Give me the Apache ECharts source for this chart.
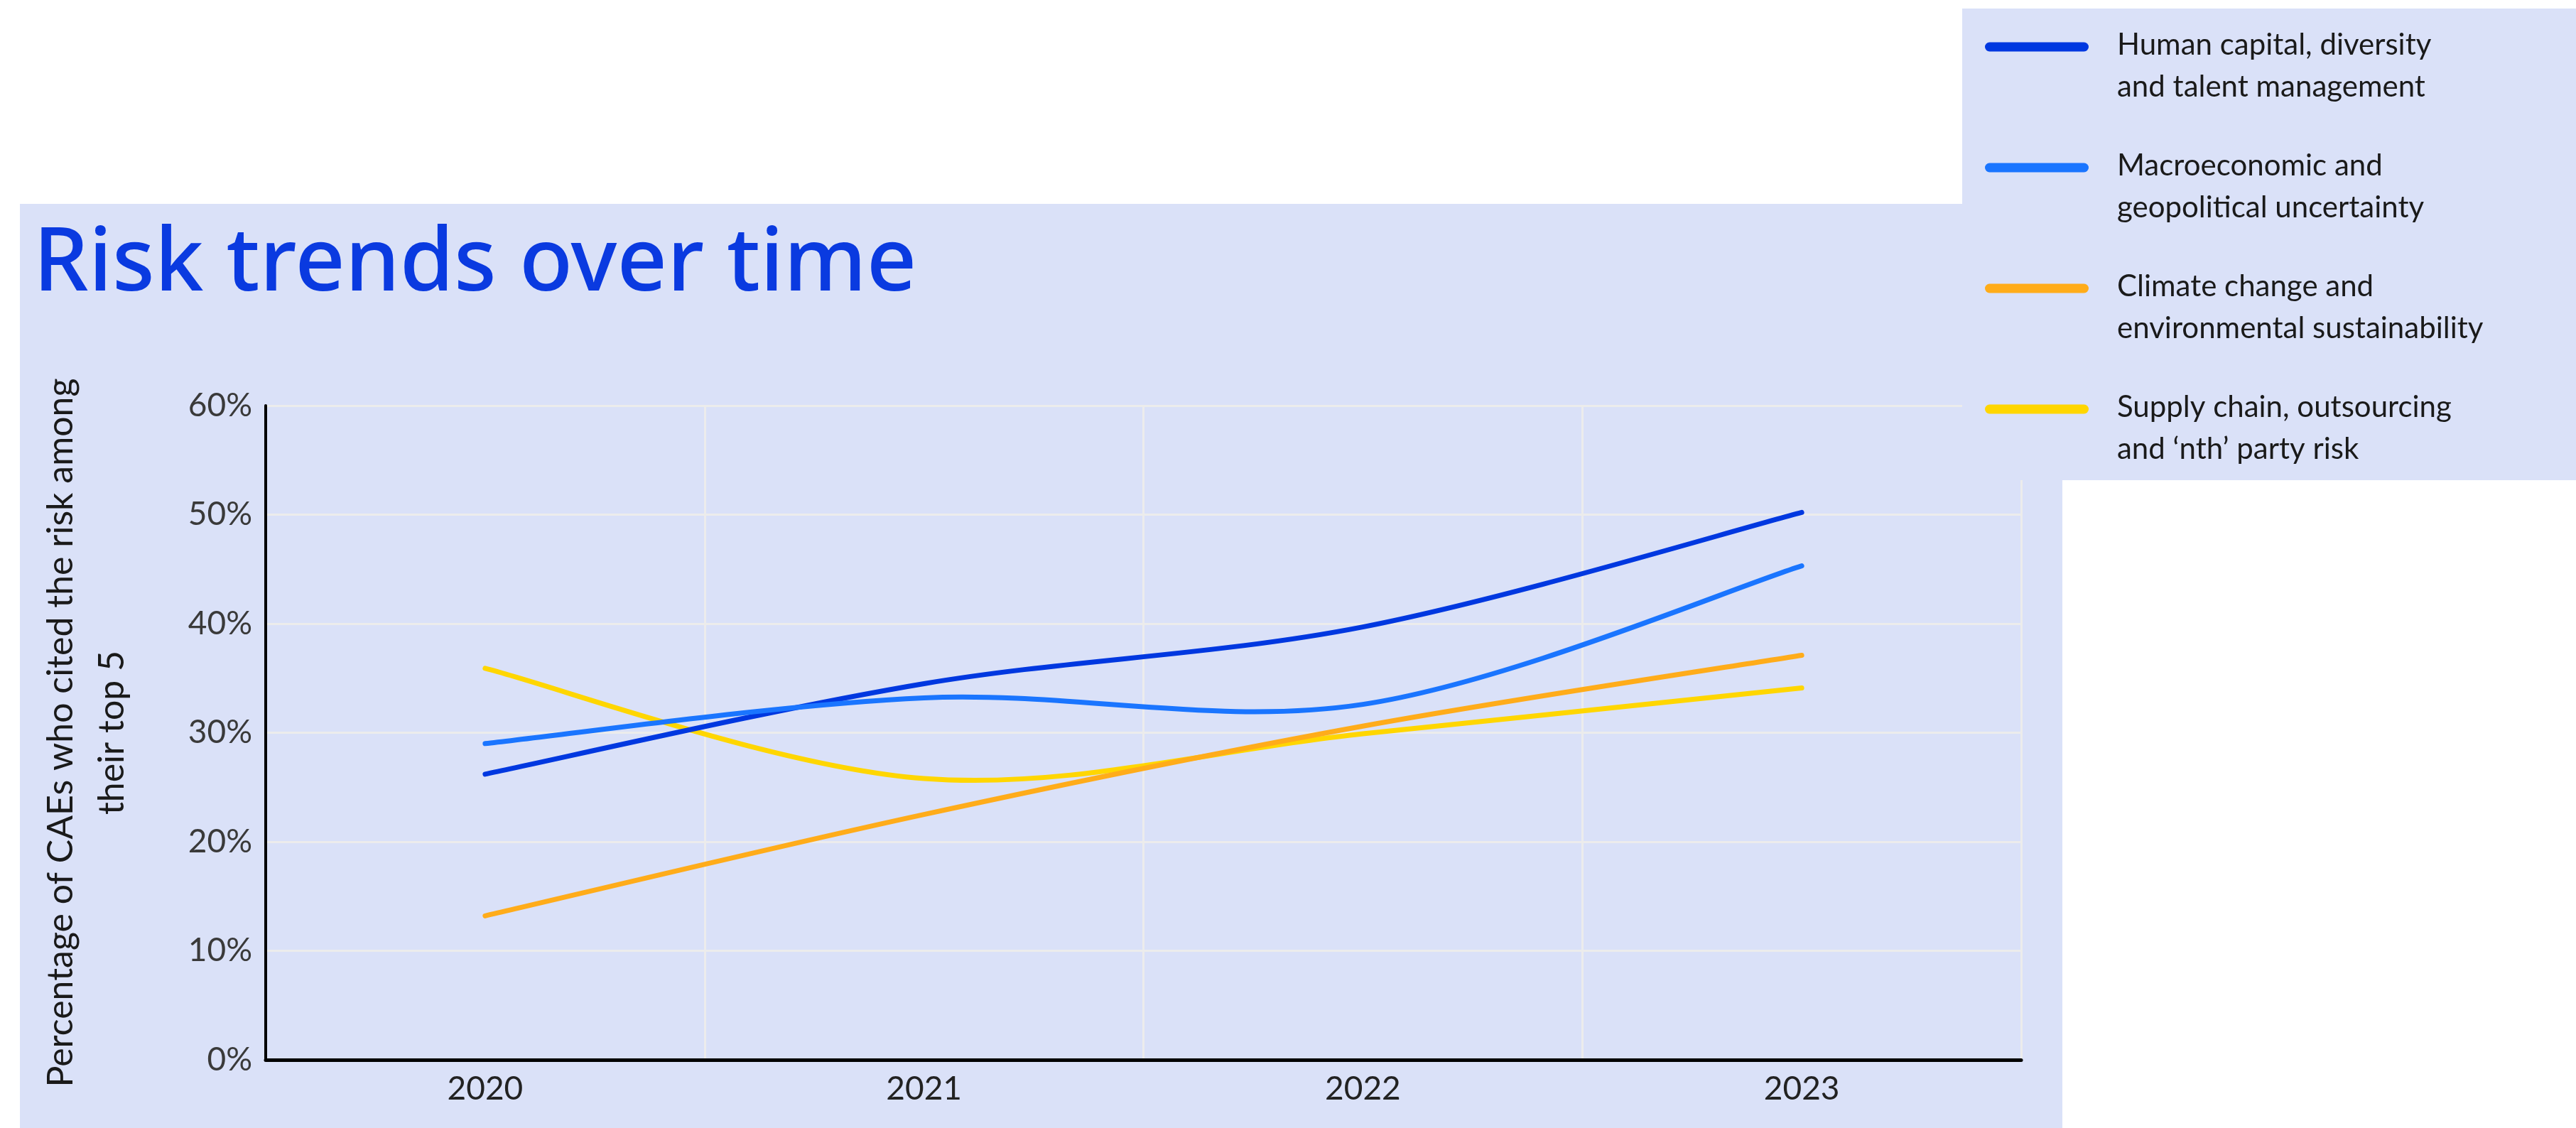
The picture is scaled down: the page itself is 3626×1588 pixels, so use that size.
<!DOCTYPE html>
<html>
<head>
<meta charset="utf-8">
<script src="https://cdn.jsdelivr.net/npm/echarts@6/dist/echarts.min.js"></script>
<style>
  html, body { margin: 0; padding: 0; background: #ffffff; }
  #chart { width: 3626px; height: 1588px; }
</style>
</head>
<body>
<div id="chart"></div>
<script>
// data (percent of CAEs)
const years = ["2020", "2021", "2022", "2023"];
const seriesNames = [
  "Human capital, diversity\nand talent management",
  "Macroeconomic and\ngeopolitical uncertainty",
  "Climate change and\nenvironmental sustainability",
  "Supply chain, outsourcing\nand \u2018nth\u2019 party risk"
];
const humanCapital = [26.2, 34.5, 39.7, 50.2];
const macroeconomic = [29.0, 33.2, 32.6, 45.3];
const climateChange = [13.2, 22.5, 30.6, 37.1];
const supplyChain = [35.9, 25.8, 29.9, 34.1];
const seriesColors = ["#0038e0", "#1a75ff", "#ffac1a", "#ffd600"];
const seriesZ = [4, 5, 3, 2];
const yMin = 0, yMax = 60, yStep = 10;

const panelColor = "#dae1f8";
const gridColor = "#ececec";

// legend icon: rounded bar at the first text line, padded box so text sits further right
const legendIcon = "path://M0,0 M181,118 M6.5,25.5 L139.5,25.5 A6.5,6.5 0 0 1 139.5,38.5 L6.5,38.5 A6.5,6.5 0 0 1 6.5,25.5 Z";

const allValues = [humanCapital, macroeconomic, climateChange, supplyChain];

// smoothed line like the original spreadsheet chart (catmull-rom, handles = 1/6 of neighbour span)
function splinePath(pts) {
  let d = "M" + pts[0][0] + "," + pts[0][1];
  for (let i = 0; i < pts.length - 1; i++) {
    const p0 = pts[Math.max(i - 1, 0)];
    const p1 = pts[i];
    const p2 = pts[i + 1];
    const p3 = pts[Math.min(i + 2, pts.length - 1)];
    const c1x = p1[0] + (p2[0] - p0[0]) / 6;
    const c1y = p1[1] + (p2[1] - p0[1]) / 6;
    const c2x = p2[0] - (p3[0] - p1[0]) / 6;
    const c2y = p2[1] - (p3[1] - p1[1]) / 6;
    d += " C" + c1x + "," + c1y + " " + c2x + "," + c2y + " " + p2[0] + "," + p2[1];
  }
  return d;
}

function makeRenderer(values, color) {
  return function (params, api) {
    if (params.dataIndex !== 0) return null;
    const pts = values.map((v, k) => api.coord([k, v]));
    return {
      type: "path",
      shape: { pathData: splinePath(pts) },
      style: { fill: "none", stroke: color, lineWidth: 7, lineCap: "round" }
    };
  };
}

const chart = echarts.init(document.getElementById("chart"), null, { renderer: "canvas" });

chart.setOption({
  backgroundColor: "#ffffff",
  animation: false,
  title: {
    text: "Risk trends over time",
    left: 47,
    top: 312,
    padding: 0,
    textStyle: {
      fontFamily: "Noto Sans",
      fontSize: 123,
      fontWeight: 500,
      color: "#0a3ae0"
    }
  },
  graphic: [
    {
      type: "rect",
      z: -1,
      shape: { x: 28, y: 287, width: 2875, height: 1301 },
      style: { fill: panelColor }
    },
    {
      type: "rect",
      z: 6,
      shape: { x: 2762, y: 12, width: 864, height: 664 },
      style: { fill: panelColor }
    }
  ],
  legend: {
    orient: "vertical",
    left: 2794,
    top: 34,
    z: 8,
    padding: 0,
    itemGap: 52,
    itemWidth: 181,
    itemHeight: 118,
    icon: legendIcon,
    selectedMode: false,
    itemStyle: { borderWidth: 0 },
    textStyle: {
      fontFamily: "Lato",
      fontSize: 42,
      lineHeight: 59,
      color: "#1a1a1a"
    },
    data: seriesNames
  },
  grid: {
    left: 374,
    right: 781,
    top: 571,
    bottom: 96,
    containLabel: false
  },
  xAxis: {
    type: "category",
    data: years,
    boundaryGap: true,
    axisLine: { show: true, lineStyle: { color: "#000000", width: 5 } },
    axisTick: { show: false },
    axisLabel: {
      margin: 18,
      fontFamily: "Lato",
      fontSize: 46,
      color: "#222222"
    },
    splitLine: { show: true, lineStyle: { color: gridColor, width: 3 } }
  },
  yAxis: {
    type: "value",
    min: yMin,
    max: yMax,
    interval: yStep,
    name: "Percentage of CAEs who cited the risk among\ntheir top 5",
    nameLocation: "middle",
    nameGap: 180,
    nameTextStyle: {
      fontFamily: "Lato",
      fontSize: 50,
      lineHeight: 72,
      color: "#1a1a1a"
    },
    axisLine: { show: true, lineStyle: { color: "#000000", width: 4 } },
    axisTick: { show: false },
    axisLabel: {
      margin: 19,
      formatter: "{value}%",
      fontFamily: "Lato",
      fontSize: 46,
      color: "#3a3a3a"
    },
    splitLine: { show: true, lineStyle: { color: gridColor, width: 3 } }
  },
  series: seriesNames.map((name, i) => ({
    name: name,
    type: "custom",
    z: seriesZ[i],
    coordinateSystem: "cartesian2d",
    data: allValues[i].map((v, k) => [k, v]),
    encode: { x: 0, y: 1 },
    color: seriesColors[i],
    itemStyle: { color: seriesColors[i] },
    renderItem: makeRenderer(allValues[i], seriesColors[i])
  }))
});
</script>
</body>
</html>
